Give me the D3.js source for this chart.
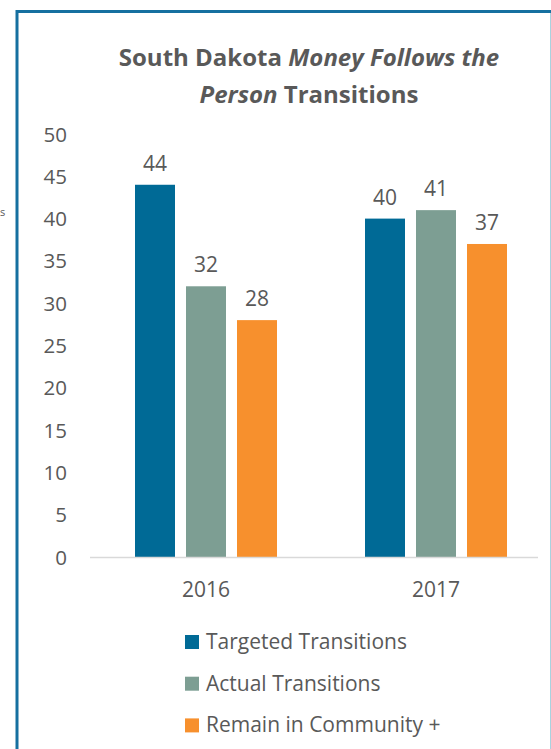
<!DOCTYPE html>
<html>
<head>
<meta charset="utf-8">
<script src="https://cdn.jsdelivr.net/npm/d3@7"></script>
<style>
  body { margin: 0; background: #fff; }
  svg { display: block; }
  text { font-family: "Open Sans", sans-serif; fill: #595959; }
</style>
</head>
<body>
<script>
// chart data
var years = ["2016", "2017"];
var seriesNames = ["Targeted Transitions", "Actual Transitions", "Remain in Community +"];
var targeted = [44, 40];
var actual = [32, 41];
var remain = [28, 37];
var yTicks = [0, 5, 10, 15, 20, 25, 30, 35, 40, 45, 50];
var colors = ["#006a96", "#7d9e93", "#f7902d"];

var width = 551, height = 749;

var svg = d3.select("body").append("svg")
  .attr("width", width)
  .attr("height", height);

// frame of the text box
svg.append("line").attr("x1", 17).attr("x2", 17).attr("y1", 10).attr("y2", height)
  .attr("stroke", "#1670a0").attr("stroke-width", 3);
svg.append("line").attr("x1", 16).attr("x2", width).attr("y1", 11.5).attr("y2", 11.5)
  .attr("stroke", "#1670a0").attr("stroke-width", 3);
svg.append("line").attr("x1", 550.5).attr("x2", 550.5).attr("y1", 13).attr("y2", height)
  .attr("stroke", "#a9d3df").attr("stroke-width", 1);

// fragment at the far left, outside the box
svg.append("text").attr("x", 0).attr("y", 216)
  .style("font-size", "11px").text("s");

// title
var title = svg.append("text")
  .attr("text-anchor", "middle")
  .style("font-size", "24px")
  .style("font-weight", "bold");
var t1 = title.append("tspan").attr("x", 309).attr("y", 66);
t1.append("tspan").text("South Dakota ");
t1.append("tspan").style("font-style", "italic").text("Money Follows the");
var t2 = title.append("tspan").attr("x", 309).attr("y", 103);
t2.append("tspan").style("font-style", "italic").text("Person");
t2.append("tspan").text(" Transitions");

// scales
var x0 = d3.scaleBand().domain(years).range([91, 551]);
var x1 = d3.scaleBand().domain(seriesNames).range([0, 142]).paddingInner(11 / 51);
var y = d3.scaleLinear().domain([0, 50]).range([557, 134]);

// y tick labels
svg.append("g").selectAll("text")
  .data(yTicks)
  .enter().append("text")
  .attr("x", 67)
  .attr("y", function(d) { return y(d) + 7.5; })
  .attr("text-anchor", "end")
  .style("font-size", "20.5px")
  .text(function(d) { return d; });

// bars
var rows = years.map(function(yr, i) {
  return { year: yr, values: [targeted[i], actual[i], remain[i]] };
});

var groups = svg.selectAll(".grp")
  .data(rows)
  .enter().append("g")
  .attr("class", "grp")
  .attr("transform", function(d) {
    return "translate(" + (x0(d.year) + x0.bandwidth() / 2 - 71) + ",0)";
  });

groups.selectAll("rect")
  .data(function(d) { return d.values.map(function(v, j) { return { name: seriesNames[j], value: v, k: j }; }); })
  .enter().append("rect")
  .attr("x", function(d) { return x1(d.name); })
  .attr("y", function(d) { return y(d.value); })
  .attr("width", x1.bandwidth())
  .attr("height", function(d) { return y(0) - y(d.value); })
  .attr("fill", function(d) { return colors[d.k]; });

groups.selectAll(".lbl")
  .data(function(d) { return d.values.map(function(v, j) { return { name: seriesNames[j], value: v }; }); })
  .enter().append("text")
  .attr("class", "lbl")
  .attr("x", function(d) { return x1(d.name) + x1.bandwidth() / 2; })
  .attr("y", function(d) { return y(d.value) - 14; })
  .attr("text-anchor", "middle")
  .style("font-size", "21px")
  .text(function(d) { return d.value; });

// baseline
svg.append("line")
  .attr("x1", 90).attr("x2", 538)
  .attr("y1", y(0) + 0.5).attr("y2", y(0) + 0.5)
  .attr("stroke", "#d9d9d9").attr("stroke-width", 1.5);

// category labels
svg.append("g").selectAll("text")
  .data(years)
  .enter().append("text")
  .attr("x", function(d) { return x0(d) + x0.bandwidth() / 2; })
  .attr("y", 597)
  .attr("text-anchor", "middle")
  .style("font-size", "21px")
  .text(function(d) { return d; });

// legend
var legend = svg.append("g").selectAll("g")
  .data(seriesNames)
  .enter().append("g")
  .attr("transform", function(d, i) { return "translate(185," + (635 + i * 41.7) + ")"; });

legend.append("rect")
  .attr("width", 14).attr("height", 14)
  .attr("fill", function(d, i) { return colors[i]; });

legend.append("text")
  .attr("x", 21).attr("y", 14)
  .style("font-size", "21px")
  .text(function(d) { return d; });
</script>
</body>
</html>
